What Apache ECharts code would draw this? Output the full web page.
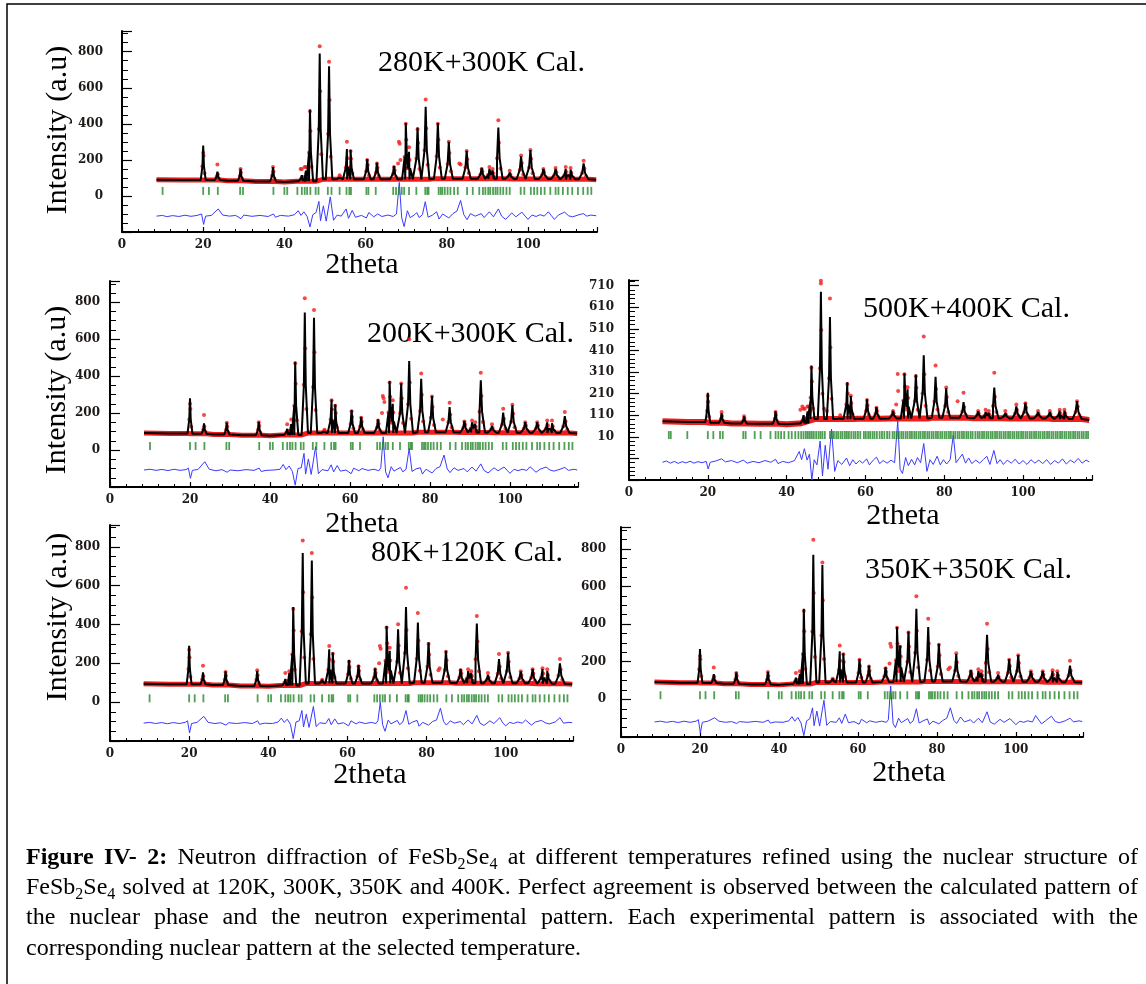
<!DOCTYPE html>
<html>
<head>
<meta charset="utf-8">
<script src="https://cdn.jsdelivr.net/npm/echarts@6/dist/echarts.min.js"></script>
<style>
  html, body { margin: 0; padding: 0; background: #ffffff; }
  #chart { width: 1146px; height: 984px; }
</style>
</head>
<body>
<div id="chart"></div>
<script>
// ---------------------------------------------------------------
// FeSb2Se4 neutron diffraction refinements (2theta in degrees)
// ---------------------------------------------------------------

// 2theta of the main calculated reflections (same nuclear cell for every run)
const peakPos = [20.0, 23.5, 29.2, 37.2, 44.3, 45.3, 46.3, 48.7, 51.0, 53.6, 55.4, 56.3, 60.4, 62.8, 67.0, 69.9, 70.7, 72.8, 74.8, 77.8, 80.5, 84.9, 88.6, 90.5, 91.3, 92.7, 95.5, 98.3, 100.6, 103.8, 106.8, 109.3, 110.5, 113.7];

// 280K data + 300K model
const bg280   = [[8.5,90],[15,88],[20,88],[26,84],[33,80],[40,78],[43,82],[48,92],[58,92],[66,92],[76,96],[86,95],[96,94],[106,92],[116.8,90]];
const calc280 = [280,135,150,160,115,140,480,790,720,110,260,255,205,185,165,405,245,380,495,405,300,250,155,150,140,380,130,220,255,150,150,150,145,180];
const obs280  = [240,175,150,160,150,160,470,830,745,115,300,250,200,180,160,400,270,370,535,400,300,250,150,160,150,420,140,225,255,150,155,160,155,195];
const extra280 = [[68.2,300],[68.4,290],[68.0,180],[68.6,200],[83.1,180],[83.4,175],[44.0,150],[45.0,160]];
const diff280 = [[8.5,-112],[10,-108],[11,-115],[12.5,-109],[14,-114],[15.5,-107],[17,-113],[18.5,-108],[19.6,-100],[20.1,-158],[20.6,-112],[22,-108],[23.7,-72],[24.8,-106],[26.5,-112],[28,-108],[29.3,-126],[30,-106],[32,-113],[34,-108],[36,-114],[37.3,-100],[37.8,-118],[39,-108],[41,-112],[42.5,-104],[43.4,-82],[44.1,-108],[44.8,-88],[45.6,-114],[46.3,-172],[47,-104],[47.8,-92],[48.5,-30],[48.9,-138],[49.6,-55],[50.3,-140],[51.3,-5],[52.1,-135],[53,-106],[54,-112],[55.2,-72],[55.8,-124],[56.7,-80],[57.5,-118],[59,-108],[60.2,-122],[60.8,-92],[62,-116],[63,-100],[64,-114],[65.5,-106],[66.8,-114],[67.6,-100],[68.3,75],[68.9,-122],[69.5,-170],[70.3,-82],[71,-120],[72.1,-104],[72.6,-92],[73.2,-120],[74,-104],[74.7,-32],[75.4,-118],[76.5,-106],[77.5,-88],[78.1,-128],[79,-100],[79.8,-112],[80.5,-122],[81.5,-98],[82.5,-84],[83.4,-25],[84.2,-104],[85,-132],[85.8,-98],[87,-112],[88.5,-98],[89.2,-120],[90.5,-88],[91.5,-116],[92.7,-72],[93.5,-112],[94.5,-130],[96,-94],[97,-116],[98.5,-90],[99.3,-112],[100,-130],[101,-106],[102,-114],[103,-104],[104,-112],[105,-88],[105.8,-110],[106.5,-130],[107.5,-106],[109,-90],[110,-110],[111,-116],[112.3,-106],[113.6,-98],[114.5,-112],[115.5,-106],[116.8,-110]];

// 200K data + 300K model
const bg200   = [[8.5,92],[15,90],[20,88],[26,84],[33,80],[40,78],[43,82],[48,92],[58,92],[66,92],[76,96],[86,95],[96,94],[106,92],[116.8,90]];
const calc200 = [280,144,148,153,115,140,478,745,716,110,274,247,216,180,166,373,250,361,482,386,292,233,157,150,140,377,130,202,242,150,150,150,145,184];
const obs200  = [250,190,148,150,140,165,470,821,758,110,270,240,210,175,160,365,270,360,600,415,290,256,155,160,150,419,140,224,245,150,150,160,160,206];
const extra200 = [[68.2,292],[68.4,280],[68.6,260],[68.0,200],[83.2,165]];
const diff200 = [[8.5,-108],[10,-104],[11.5,-110],[13,-105],[14.5,-111],[16,-104],[17.5,-110],[19,-106],[19.6,-98],[20.1,-153],[20.6,-110],[22,-105],[23.7,-63],[24.8,-104],[26.5,-112],[28,-106],[29.3,-120],[30,-108],[32,-112],[34,-106],[36,-110],[37.3,-98],[37.8,-116],[39,-110],[41,-108],[42.5,-104],[43.3,-78],[44,-106],[44.8,-86],[45.6,-116],[46.3,-190],[47,-100],[47.8,-96],[48.5,-18],[48.9,-130],[49.6,-48],[50.3,-132],[51.4,18],[52.1,-128],[53,-106],[54.5,-112],[55.3,-80],[55.9,-118],[56.8,-84],[57.6,-114],[59,-108],[60.3,-128],[60.9,-98],[62.2,-112],[63,-100],[64.5,-110],[66,-104],[67.2,-112],[67.7,-96],[68.3,72],[68.9,-118],[69.5,-150],[70.3,-90],[71,-114],[72.6,-94],[73.2,-118],[74,-104],[74.8,9],[75.5,-116],[76.5,-102],[77.6,-96],[78.1,-130],[79,-104],[80.5,-124],[81.5,-100],[82.5,-90],[83.5,-27],[84.3,-102],[85,-122],[86,-96],[87,-110],[88.5,-100],[89.3,-118],[90.5,-92],[91.5,-114],[92.7,-75],[93.5,-110],[94.5,-124],[96,-96],[97,-112],[98.5,-92],[99.3,-110],[100,-126],[101,-104],[102,-112],[103,-104],[104.2,-110],[105,-90],[106.5,-120],[107.5,-104],[109,-92],[110,-108],[111,-114],[112.5,-104],[113.7,-94],[114.6,-110],[116,-104],[116.8,-108]];

// 500K data + 400K model
const bg500   = [[8.5,82],[15,78],[20,75],[26,72],[33,70],[40,68],[43,72],[46,92],[58,94],[66,95],[76,98],[86,96],[96,95],[106,92],[116.8,88]];
const calc500 = [214,120,104,128,110,128,340,681,565,100,262,199,183,147,130,304,230,298,387,288,235,170,128,125,120,238,120,151,167,125,125,130,130,175];
const obs500  = [200,125,105,125,140,150,330,733,650,110,255,200,180,145,130,300,240,290,474,340,238,214,130,135,130,306,130,160,165,130,130,135,135,175];
const extra500 = [[68.2,301],[68.3,222],[67.8,160],[83.4,175],[43.5,135],[44.0,150],[44.6,140],[45.6,150],[46.0,130],[49.5,140],[50.2,130],[48.7,720]];
const diff500 = [[8.5,-108],[9.5,-102],[10.5,-112],[11.5,-104],[12.5,-113],[13.5,-105],[14.5,-111],[15.5,-103],[16.5,-112],[17.5,-105],[18.5,-110],[19.6,-104],[20.1,-139],[20.6,-108],[22,-102],[23.5,-92],[24.5,-106],[26,-100],[27.5,-110],[29,-98],[30,-112],[31.5,-104],[33,-110],[34.5,-100],[36,-108],[37.2,-94],[37.8,-114],[39,-104],[40.5,-110],[42,-100],[43.2,-58],[43.8,-96],[44.5,-45],[45.2,-98],[45.8,-70],[46.4,-190],[47,-96],[47.7,-120],[48.5,-10],[49.1,-171],[49.8,-29],[50.5,-140],[51.4,46],[52.2,-150],[53,-100],[54,-118],[55.2,-88],[56,-124],[56.8,-96],[57.6,-116],[58.5,-100],[59.3,-112],[60.3,-92],[61,-120],[62,-98],[62.8,-84],[63.6,-114],[64.5,-100],[65.5,-112],[66.5,-98],[67.4,-110],[68.2,84],[68.8,-140],[69.4,-160],[70.2,-86],[70.9,-124],[71.7,-94],[72.5,-120],[73.2,-86],[74,-110],[74.8,-21],[75.6,-150],[76.4,-96],[77.2,-118],[78.2,-80],[79,-120],[79.8,-96],[80.6,-116],[81.5,-96],[82.3,18],[83,-110],[83.8,-90],[84.6,-70],[85.4,-112],[86.2,-88],[87,-114],[88,-98],[89,-112],[90,-94],[90.8,-80],[91.6,-118],[92.6,-53],[93.4,-114],[94.2,-96],[95,-118],[96,-98],[97,-112],[98,-94],[99,-116],[100,-100],[101,-118],[102,-96],[103,-112],[104,-98],[105,-114],[106,-96],[107,-118],[108,-100],[109,-112],[110,-92],[111,-116],[112,-98],[113,-110],[114,-90],[115,-112],[116,-98],[116.8,-106]];

// 80K data + 120K model
const bg80   = [[8.5,95],[15,93],[20,92],[26,88],[33,84],[40,82],[43,86],[48,96],[58,96],[66,96],[76,100],[86,98],[96,97],[106,95],[116.8,92]];
const calc80 = [290,154,159,162,120,150,490,769,730,115,273,256,217,191,174,393,265,376,490,410,308,265,171,160,150,405,140,222,256,159,171,171,160,200];
const obs80  = [270,188,155,165,150,160,480,833,769,115,290,250,210,185,170,385,280,402,590,460,300,260,165,170,160,444,150,248,255,160,170,175,170,222];
const extra80 = [[68.2,290],[68.4,275],[68.0,200],[83.3,175],[83.0,165]];
const diff80 = [[8.5,-108],[10,-104],[11.5,-110],[13,-105],[14.5,-111],[16,-105],[17.5,-110],[19,-104],[19.6,-96],[20.1,-159],[20.6,-110],[22,-104],[23.7,-73],[24.8,-104],[26.5,-110],[28,-106],[29.3,-118],[30,-106],[32,-110],[34,-105],[36,-110],[37.3,-96],[37.8,-114],[39,-108],[41,-110],[42.5,-102],[43.3,-82],[44,-104],[44.8,-88],[45.6,-114],[46.3,-188],[47,-102],[47.8,-96],[48.5,-43],[48.9,-128],[49.6,-62],[50.3,-130],[51.4,-22],[52.1,-126],[53,-106],[54.5,-110],[55.3,-84],[55.9,-116],[56.8,-86],[57.6,-112],[59,-106],[60.3,-122],[60.9,-96],[62.2,-112],[63,-102],[64.5,-110],[66,-104],[67.2,-110],[67.7,-96],[68.3,0],[68.9,-116],[69.5,-150],[70.3,-92],[71,-112],[72.6,-94],[73.2,-116],[74,-102],[74.8,-43],[75.5,-114],[76.5,-102],[77.6,-94],[78.1,-124],[79,-104],[80.5,-118],[81.5,-100],[82.5,-92],[83.5,-31],[84.3,-100],[85,-118],[86,-96],[87,-108],[88.5,-100],[89.3,-116],[90.5,-92],[91.5,-112],[92.7,-68],[93.5,-108],[94.5,-120],[96,-96],[97,-110],[98.5,-80],[99.3,-108],[100,-122],[101,-104],[102,-110],[103,-102],[104.2,-108],[105,-92],[106.5,-118],[107.5,-102],[109,-94],[110,-106],[111,-112],[112.5,-102],[113.7,-80],[114.6,-108],[116,-104],[116.8,-106]];

// 350K data + 350K model
const bg350   = [[8.5,92],[15,88],[20,87],[26,83],[33,79],[40,77],[43,81],[48,90],[58,90],[66,92],[76,95],[86,94],[96,93],[106,91],[116.8,90]];
const calc350 = [268,134,143,146,115,135,482,768,714,110,255,245,214,179,170,384,286,361,482,384,295,241,155,150,140,343,130,214,236,150,150,150,145,179];
const obs350  = [230,170,140,145,140,150,470,848,728,110,286,240,210,175,165,380,280,355,548,429,290,245,150,160,150,402,140,210,235,150,150,155,150,205];
const extra350 = [[68.2,295],[68.4,280],[68.0,190],[83.3,170],[82.9,160]];
const diff350 = [[8.5,-120],[10,-116],[11.5,-122],[13,-117],[14.5,-123],[16,-116],[17.5,-122],[19,-116],[19.6,-108],[20.1,-179],[20.6,-122],[22,-116],[23.7,-98],[24.8,-116],[26.5,-122],[28,-118],[29.3,-128],[30,-118],[32,-122],[34,-117],[36,-122],[37.3,-110],[37.8,-126],[39,-120],[41,-122],[42.5,-114],[43.3,-92],[44,-116],[44.8,-96],[45.6,-126],[46.3,-193],[47,-114],[47.8,-104],[48.5,-45],[48.9,-140],[49.6,-62],[50.3,-142],[51.4,-5],[52.1,-138],[53,-118],[54.5,-122],[55.3,-98],[55.9,-128],[56.8,-78],[57.6,-124],[59,-118],[60.3,-132],[60.9,-106],[62.2,-124],[63,-114],[64.5,-122],[66,-116],[67.2,-122],[67.7,-108],[68.3,71],[68.9,-128],[69.5,-150],[70.3,-100],[71,-124],[72.6,-102],[73.2,-128],[74,-114],[74.8,-50],[75.5,-126],[76.5,-114],[77.6,-104],[78.1,-134],[79,-116],[80.5,-130],[81.5,-112],[82.5,-100],[83.4,-45],[84.3,-112],[85,-128],[86,-94],[87,-120],[88.5,-108],[89.3,-126],[90.5,-100],[91.5,-124],[92.7,-66],[93.5,-120],[94.5,-132],[96,-106],[97,-122],[98.5,-102],[99.3,-120],[100,-134],[101,-116],[102,-122],[103,-114],[104.2,-120],[105,-86],[106.5,-130],[107.5,-114],[109,-89],[110,-118],[111,-124],[112.5,-114],[113.7,-100],[114.6,-120],[116,-114],[116.8,-118]];

// Bragg reflection positions
const braggNuclear = [10.0,20.0,21.4,23.6,29.1,29.8,37.3,40.0,40.7,43.2,44.3,45.0,45.6,46.4,47.7,48.4,50.7,51.6,53.6,55.3,56.0,56.4,60.2,60.7,62.5,66.8,67.5,68.2,68.9,69.5,70.7,72.5,74.7,75.2,75.5,78.0,78.5,78.9,79.5,80.2,80.9,81.8,82.7,85.0,86.4,88.0,88.9,89.5,90.2,90.7,91.4,92.0,92.5,93.2,93.9,94.7,95.5,98.2,99.1,100.7,101.5,102.3,103.2,104.1,105.5,106.8,107.5,108.6,109.8,110.9,112.3,113.6,114.7,115.6];
const bragg500 = [10.1,10.6,14.8,20.0,21.4,23.1,23.8,29.0,29.6,31.9,33.4,35.9,37.2,37.9,38.6,39.4,40.5,41.3,42.2,43.0,43.7,44.3,44.9,45.4,45.9,46.4,46.9,47.5,48.1,48.6,49.1,49.7,51.0,51.5,52.0,52.6,53.1,53.7,54.2,54.8,55.3,55.8,56.4,57.0,57.5,58.1,58.7,59.6,60.1,60.7,61.2,61.8,62.3,62.9,63.6,64.2,64.8,65.5,66.1,66.9,67.4,68.0,68.5,69.1,69.6,70.2,70.7,71.3,71.8,72.4,72.9,73.5,74.0,74.6,75.1,75.7,76.2,76.8,77.3,77.9,78.4,79.0,79.5,80.1,80.6,81.2,81.7,82.3,82.8,83.4,83.9,84.5,85.0,85.6,86.1,86.7,87.2,87.9,88.5,89.0,89.6,90.1,90.7,91.2,91.8,92.3,92.9,93.4,94.0,94.5,95.1,95.6,96.2,96.7,97.3,97.8,98.4,98.9,99.5,100.0,100.6,101.1,101.7,102.2,102.8,103.3,103.9,104.4,105.0,105.5,106.1,106.6,107.2,107.7,108.3,108.8,109.4,109.9,110.5,111.0,111.6,112.1,112.7,113.2,113.8,114.3,114.9,115.4,116.0,116.5];

// Panel titles and shared axis titles
const panelTitles = ['280K+300K Cal.', '200K+300K Cal.', '500K+400K Cal.', '80K+120K Cal.', '350K+350K Cal.'];
const xTitle = '2theta';
const yTitle = 'Intensity (a.u)';

// Figure caption; *word = bold, _d = subscript digit
const captionLines = [
  '*Figure *IV- *2: Neutron diffraction of FeSb_2Se_4 at different temperatures refined using the nuclear structure of',
  'FeSb_2Se_4 solved at 120K, 300K, 350K and 400K. Perfect agreement is observed between the calculated pattern of',
  'the nuclear phase and the neutron experimental pattern. Each experimental pattern is associated with the',
  'corresponding nuclear pattern at the selected temperature.'
];

// ---------------------------------------------------------------
// Layout of the five panels
// ---------------------------------------------------------------
const runs = [
  { bg: bg280, calc: calc280, obs: obs280, extra: extra280, diff: diff280, bragg: braggNuclear },
  { bg: bg200, calc: calc200, obs: obs200, extra: extra200, diff: diff200, bragg: braggNuclear },
  { bg: bg500, calc: calc500, obs: obs500, extra: extra500, diff: diff500, bragg: bragg500 },
  { bg: bg80,  calc: calc80,  obs: obs80,  extra: extra80,  diff: diff80,  bragg: braggNuclear },
  { bg: bg350, calc: calc350, obs: obs350, extra: extra350, diff: diff350, bragg: braggNuclear }
];

const layouts = [
  { grid: { left: 122, top: 31, width: 475, height: 201 }, xMax: 117, yMin: -200, yMax: 915, yStep: 200, ySplit: 4, yFirst: 0, yLast: 800, labelMargin: 19, braggY: 28, band: 5,
    title: [378, 63], xName: [362, 265], yName: [58, 130] },
  { grid: { left: 110, top: 281, width: 468, height: 206 }, xMax: 117, yMin: -200, yMax: 915, yStep: 200, ySplit: 4, yFirst: 0, yLast: 800, labelMargin: 10, braggY: 22, band: 5,
    title: [367, 334], xName: [362, 524], yName: [57, 390] },
  { grid: { left: 629, top: 280, width: 463, height: 200 }, xMax: 117.5, yMin: -190, yMax: 736, yStep: 100, ySplit: 5, yFirst: 10, yLast: 710, labelMargin: 15, braggY: 18, band: 6,
    title: [863, 309], xName: [903, 516], yName: null },
  { grid: { left: 110, top: 525, width: 463, height: 216 }, xMax: 117, yMin: -200, yMax: 913, yStep: 200, ySplit: 4, yFirst: 0, yLast: 800, labelMargin: 10, braggY: 20, band: 5,
    title: [371, 553], xName: [370, 775], yName: [58, 617] },
  { grid: { left: 621, top: 527, width: 462, height: 210 }, xMax: 117, yMin: -200, yMax: 916, yStep: 200, ySplit: 4, yFirst: 0, yLast: 800, labelMargin: 15, braggY: 22, band: 5,
    title: [865, 570], xName: [909, 773], yName: null }
];

const RED = '#f01c1c', BLACK = '#000000', GREEN = '#24872a', BLUE = '#3a3aff';
const SERIF = '"Liberation Serif", "Times New Roman", serif';
const TICK_FONT = '"DejaVu Serif", serif';

// peak half-width at the base grows slowly with angle
function halfWidth(p) { return 0.5 + 0.006 * p; }

// background level: last background knot at or before x
function level(bg, x) {
  let v = bg[0][1];
  for (const k of bg) { if (k[0] <= x) v = k[1]; }
  return v;
}

// profile polyline: background knots joined with the reflection peaks
function profile(bg, pos, h) {
  const pts = [];
  bg.forEach(k => {
    const inside = pos.some(p => Math.abs(k[0] - p) < halfWidth(p));
    if (!inside) pts.push([k[0], k[1]]);
  });
  pos.forEach((p, i) => {
    const w = halfWidth(p);
    const bl = level(bg, p - w), br = level(bg, p + w);
    pts.push([p - w, bl], [p - 0.3 * w, bl + 0.4 * (h[i] - bl)], [p, h[i]],
             [p + 0.3 * w, br + 0.4 * (h[i] - br)], [p + w, br]);
  });
  return pts.sort((a, b) => a[0] - b[0]);
}

// baseline part of the observed band: everything outside the peak cores
function baseBand(prof, pos) {
  return prof.filter(pt => !pos.some(p => Math.abs(pt[0] - p) < 0.95 * halfWidth(p)));
}

// observed points on the peak flanks
function flankPoints(bg, pos, h) {
  const pts = [];
  pos.forEach((p, i) => {
    const w = halfWidth(p);
    const b = level(bg, p);
    pts.push([p - 0.3 * w, b + 0.4 * (h[i] - b)], [p + 0.15 * w, b + 0.7 * (h[i] - b)],
             [p + 0.5 * w, b + 0.2 * (h[i] - b)]);
  });
  return pts;
}

const grids = [], xAxes = [], yAxes = [], series = [], graphics = [];

layouts.forEach((L, i) => {
  const R = runs[i];
  grids.push(Object.assign({ containLabel: false, outerBoundsMode: 'none' }, L.grid));

  xAxes.push({
    type: 'value', gridIndex: i, min: 0, max: L.xMax, interval: 20,
    axisLine: { show: true, onZero: false, lineStyle: { color: BLACK, width: 2 } },
    axisTick: { show: true, inside: true, length: 5, lineStyle: { color: BLACK, width: 1.2 } },
    minorTick: { show: true, splitNumber: 5, length: 3, lineStyle: { color: BLACK, width: 1 } },
    splitLine: { show: false }, minorSplitLine: { show: false },
    axisLabel: {
      margin: 7, fontFamily: TICK_FONT, fontWeight: 'bold', fontSize: 12, color: '#1e1a18',
      formatter: v => (v % 20 === 0 && v <= 100) ? String(v) : ''
    }
  });

  yAxes.push({
    type: 'value', gridIndex: i, min: L.yMin, max: L.yMax, interval: L.yStep,
    axisLine: { show: true, onZero: false, lineStyle: { color: BLACK, width: 2 } },
    axisTick: { show: true, inside: true, length: 10, lineStyle: { color: BLACK, width: 1.2 } },
    minorTick: { show: true, splitNumber: L.ySplit, length: 6, lineStyle: { color: BLACK, width: 1 } },
    splitLine: { show: false }, minorSplitLine: { show: false },
    axisLabel: {
      margin: L.labelMargin, fontFamily: TICK_FONT, fontWeight: 'bold', fontSize: 12, color: '#1e1a18',
      formatter: v => {
        const k = (v - L.yFirst) / L.yStep;
        return (v >= L.yFirst && v <= L.yLast && Math.abs(k - Math.round(k)) < 1e-6) ? String(Math.round(v)) : '';
      }
    }
  });

  const calcProfile = profile(R.bg, peakPos, R.calc);
  const obsPoints = peakPos.map((p, k) => [p, R.obs[k]])
    .concat(R.extra)
    .concat(flankPoints(R.bg, peakPos, R.calc));
  const common = { xAxisIndex: i, yAxisIndex: i, silent: true, animation: false };

  // observed pattern: dense band of points along the background
  series.push(Object.assign({ type: 'line', data: baseBand(calcProfile, peakPos), symbol: 'none', z: 1,
    lineStyle: { color: RED, width: L.band } }, common));
  // observed points on and above the reflections
  series.push(Object.assign({ type: 'scatter', data: obsPoints, symbol: 'circle', symbolSize: 4, z: 2,
    itemStyle: { color: RED } }, common));
  // calculated pattern
  series.push(Object.assign({ type: 'line', data: calcProfile, symbol: 'none', z: 3,
    lineStyle: { color: BLACK, width: 2 } }, common));
  // Bragg positions
  series.push(Object.assign({ type: 'scatter', data: R.bragg.map(x => [x, L.braggY]), symbol: 'rect',
    symbolSize: [1.8, 8], z: 2, itemStyle: { color: GREEN } }, common));
  // difference curve
  series.push(Object.assign({ type: 'line', data: R.diff, symbol: 'none', z: 2,
    lineStyle: { color: BLUE, width: 1 } }, common));

  // panel title and axis titles
  graphics.push({ type: 'text', x: L.title[0], y: L.title[1], silent: true,
    style: { text: panelTitles[i], fontFamily: SERIF, fontSize: 30, fill: BLACK, align: 'left', verticalAlign: 'middle' } });
  graphics.push({ type: 'text', x: L.xName[0], y: L.xName[1], silent: true,
    style: { text: xTitle, fontFamily: SERIF, fontSize: 30, fill: BLACK, align: 'center', verticalAlign: 'middle' } });
  if (L.yName) {
    graphics.push({ type: 'text', x: L.yName[0], y: L.yName[1], rotation: Math.PI / 2, silent: true,
      style: { text: yTitle, fontFamily: SERIF, fontSize: 30, fill: BLACK, align: 'center', verticalAlign: 'middle' } });
  }
});

// ---------------------------------------------------------------
// Caption: justified lines built word by word
// ---------------------------------------------------------------
const CAP_SIZE = 24, SUB_SIZE = 16, CAP_LEFT = 26, CAP_RIGHT = 1138;
const capY = [858, 888, 918, 949];
const measureCtx = document.createElement('canvas').getContext('2d');
function textWidth(t, size, bold) {
  measureCtx.font = (bold ? 'bold ' : '') + size + 'px "Liberation Serif"';
  return measureCtx.measureText(t).width;
}
function parseWord(word) {
  const bold = word.startsWith('*');
  const w = bold ? word.slice(1) : word;
  const parts = w.split(/_(\d)/);
  const segs = [];
  parts.forEach((t, k) => { if (t) segs.push({ t, sub: k % 2 === 1, bold }); });
  return segs;
}
captionLines.forEach((line, li) => {
  const words = line.split(' ').map(parseWord);
  const widths = words.map(segs => segs.reduce((s, g) => s + textWidth(g.t, g.sub ? SUB_SIZE : CAP_SIZE, g.bold), 0));
  const total = widths.reduce((a, b) => a + b, 0);
  const last = li === captionLines.length - 1;
  const gap = last ? textWidth(' ', CAP_SIZE, false) : (CAP_RIGHT - CAP_LEFT - total) / (words.length - 1);
  let x = CAP_LEFT;
  words.forEach((segs) => {
    segs.forEach(g => {
      const size = g.sub ? SUB_SIZE : CAP_SIZE;
      graphics.push({ type: 'text', x: x, y: capY[li] + (g.sub ? 7 : 0), silent: true,
        style: { text: g.t, fontFamily: SERIF, fontSize: size, fontWeight: g.bold ? 'bold' : 'normal',
                 fill: BLACK, align: 'left', verticalAlign: 'middle' } });
      x += textWidth(g.t, size, g.bold);
    });
    x += gap;
  });
});

// frame around the figure
graphics.push({ type: 'polyline', silent: true, shape: { points: [[7, 984], [7, 4], [1146, 4]] },
  style: { stroke: BLACK, lineWidth: 1.5, fill: null } });

const chart = echarts.init(document.getElementById('chart'), null, { renderer: 'canvas' });
chart.setOption({
  backgroundColor: '#ffffff',
  animation: false,
  grid: grids,
  xAxis: xAxes,
  yAxis: yAxes,
  series: series,
  graphic: graphics
});
</script>
</body>
</html>
